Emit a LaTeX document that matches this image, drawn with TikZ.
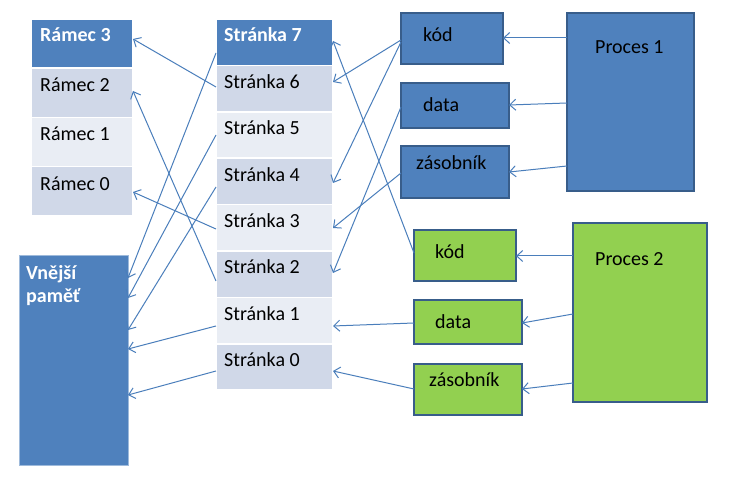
\documentclass[tikz,border=0pt]{standalone}
\usepackage{fontspec}
\setmainfont{Carlito}
\usetikzlibrary{arrows.meta}
\definecolor{hdrblue}{HTML}{4F81BD}
\definecolor{rowdark}{HTML}{D0D8E8}
\definecolor{rowlight}{HTML}{E9EDF4}
\definecolor{boxborder}{HTML}{385D8A}
\definecolor{grn}{HTML}{92D050}
\definecolor{arr}{HTML}{4A7EBB}
\tikzset{
  cell/.style={rectangle, draw=white, line width=1.5pt, inner sep=0pt, outer sep=0pt, anchor=north west},
  hdr/.style={cell, fill=hdrblue},
  drk/.style={cell, fill=rowdark},
  lgt/.style={cell, fill=rowlight},
  bbox/.style={rectangle, draw=boxborder, line width=1.6pt, inner sep=0pt, outer sep=0pt, anchor=north west, fill=hdrblue},
  gbox/.style={bbox, fill=grn},
  txt/.style={inner sep=0pt, anchor=base west, font=\fontsize{20}{23}\selectfont},
  wtxt/.style={txt, text=white, font=\fontsize{20}{23}\selectfont\bfseries},
  con/.style={draw=arr, line width=1pt, -{Straight Barb[length=6pt,width=11pt]}},
}
\begin{document}
\begin{tikzpicture}[x=1pt,y=-1pt]
\useasboundingbox[fill=white] (0,0) rectangle (729,478);
% Ramec table
\node[hdr, minimum width=102pt, minimum height=49.25pt] (r3) at (31,19) {};
\node[drk, minimum width=102pt, minimum height=49.25pt] (r2) at (31,68.25) {};
\node[lgt, minimum width=102pt, minimum height=49.25pt] (r1) at (31,117.5) {};
\node[drk, minimum width=102pt, minimum height=49.25pt] (r0) at (31,166.75) {};
\node[wtxt] (r3t) at ([xshift=9pt,yshift=-23pt]r3.north west) {Rámec 3};
\node[txt] (r2t) at ([xshift=9pt,yshift=-23.5pt]r2.north west) {Rámec 2};
\node[txt] (r1t) at ([xshift=9pt,yshift=-23.5pt]r1.north west) {Rámec 1};
\node[txt] (r0t) at ([xshift=9pt,yshift=-23.5pt]r0.north west) {Rámec 0};
% Stranka table
\node[hdr, minimum width=117pt, minimum height=46.4pt] (s7) at (216,19) {};
\node[drk, minimum width=117pt, minimum height=46.4pt] (s6) at (216,65.4) {};
\node[lgt, minimum width=117pt, minimum height=46.4pt] (s5) at (216,111.8) {};
\node[drk, minimum width=117pt, minimum height=46.4pt] (s4) at (216,158.2) {};
\node[lgt, minimum width=117pt, minimum height=46.4pt] (s3) at (216,204.6) {};
\node[drk, minimum width=117pt, minimum height=46.4pt] (s2) at (216,251) {};
\node[lgt, minimum width=117pt, minimum height=46.4pt] (s1) at (216,297.4) {};
\node[drk, minimum width=117pt, minimum height=46.4pt] (s0) at (216,343.8) {};
\node[wtxt] (s7t) at ([xshift=8pt,yshift=-23pt]s7.north west) {Stránka 7};
\node[txt] (s6t) at ([xshift=8pt,yshift=-23pt]s6.north west) {Stránka 6};
\node[txt] (s5t) at ([xshift=8pt,yshift=-23pt]s5.north west) {Stránka 5};
\node[txt] (s4t) at ([xshift=8pt,yshift=-23pt]s4.north west) {Stránka 4};
\node[txt] (s3t) at ([xshift=8pt,yshift=-23pt]s3.north west) {Stránka 3};
\node[txt] (s2t) at ([xshift=8pt,yshift=-23pt]s2.north west) {Stránka 2};
\node[txt] (s1t) at ([xshift=8pt,yshift=-23pt]s1.north west) {Stránka 1};
\node[txt] (s0t) at ([xshift=8pt,yshift=-23pt]s0.north west) {Stránka 0};
% external memory
\node[cell, draw=hdrblue!55, line width=0.8pt, fill=hdrblue, minimum width=109pt, minimum height=210pt] (ext) at (19,255) {};
\node[wtxt, align=left, anchor=north west] (extt) at ([xshift=7pt,yshift=-10pt]ext.north west) {Vnější\\paměť};
% process 1
\node[bbox, minimum width=102pt, minimum height=51pt] (k1) at (401,13) {};
\node[bbox, minimum width=108pt, minimum height=45pt] (d1) at (401,83) {};
\node[bbox, minimum width=108pt, minimum height=52pt] (z1) at (401,146) {};
\node[bbox, minimum width=127pt, minimum height=178pt] (p1) at (567,13) {};
\node[txt] (k1t) at ([xshift=22pt,yshift=-29pt]k1.north west) {kód};
\node[txt] (d1t) at ([xshift=22pt,yshift=-29pt]d1.north west) {data};
\node[txt] (z1t) at ([xshift=15pt,yshift=-24pt]z1.north west) {zásobník};
\node[txt] (p1t) at ([xshift=28pt,yshift=-41pt]p1.north west) {Proces 1};
% process 2
\node[gbox, minimum width=102pt, minimum height=51pt] (k2) at (414,230) {};
\node[gbox, minimum width=108pt, minimum height=44pt] (d2) at (414,300) {};
\node[gbox, minimum width=108pt, minimum height=51pt] (z2) at (414,364) {};
\node[gbox, minimum width=134pt, minimum height=179pt] (p2) at (573,223) {};
\node[txt] (k2t) at ([xshift=21pt,yshift=-29pt]k2.north west) {kód};
\node[txt] (d2t) at ([xshift=21pt,yshift=-29pt]d2.north west) {data};
\node[txt] (z2t) at ([xshift=15pt,yshift=-23pt]z2.north west) {zásobník};
\node[txt] (p2t) at ([xshift=22pt,yshift=-43pt]p2.north west) {Proces 2};
% connectors: pages -> frames
\draw[con] ([yshift=-21.6pt]s6.north west) -- ([yshift=-20pt]r3.north east);
\draw[con] ([yshift=-30pt]s2.north west) -- ([yshift=-22.75pt]r2.north east);
\draw[con] ([yshift=-24.4pt]s3.north west) -- ([yshift=-25.25pt]r0.north east);
% pages -> external memory
\draw[con] ([yshift=-34pt]s7.north west) -- ([yshift=-23pt]ext.north east);
\draw[con] ([yshift=-23.2pt]s5.north west) -- ([yshift=-43pt]ext.north east);
\draw[con] ([yshift=-28.8pt]s4.north west) -- ([yshift=-75pt]ext.north east);
\draw[con] ([yshift=-28.6pt]s1.north west) -- ([yshift=-94pt]ext.north east);
\draw[con] ([yshift=-27.2pt]s0.north west) -- ([yshift=-140pt]ext.north east);
% segments -> pages
\draw[con] ([yshift=-27pt]k1.north west) -- ([yshift=-16.6pt]s6.north east);
\draw[con] ([yshift=-29pt]k1.north west) -- ([yshift=-24.8pt]s4.north east);
\draw[con] ([yshift=-24pt]d1.north west) -- ([yshift=-22pt]s2.north east);
\draw[con] ([yshift=-27pt]z1.north west) -- ([yshift=-23.4pt]s3.north east);
\draw[con] ([yshift=-23pt]k2.north west) -- ([yshift=-22pt]s7.north east);
\draw[con] ([yshift=-23pt]d2.north west) -- ([yshift=-28.6pt]s1.north east);
\draw[con] ([yshift=-25pt]z2.north west) -- ([yshift=-27.2pt]s0.north east);
% processes -> segments
\draw[con] ([yshift=-25pt]p1.north west) -- ([yshift=-25pt]k1.north east);
\draw[con] ([yshift=-90pt]p1.north west) -- ([yshift=-22pt]d1.north east);
\draw[con] ([yshift=-153pt]p1.north west) -- ([yshift=-26pt]z1.north east);
\draw[con] ([yshift=-33pt]p2.north west) -- ([yshift=-26pt]k2.north east);
\draw[con] ([yshift=-91pt]p2.north west) -- ([yshift=-23pt]d2.north east);
\draw[con] ([yshift=-160pt]p2.north west) -- ([yshift=-25pt]z2.north east);
\end{tikzpicture}
\end{document}
